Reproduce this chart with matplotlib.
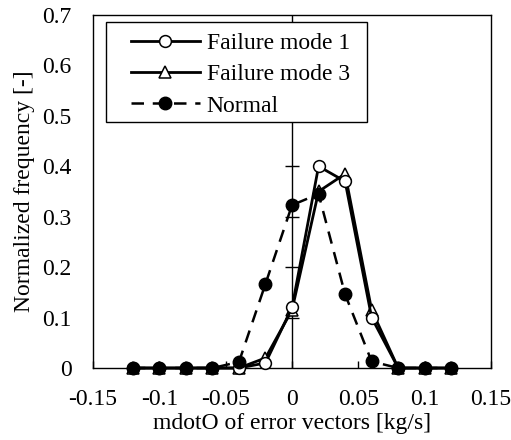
import matplotlib
matplotlib.use("Agg")
import matplotlib.pyplot as plt
from matplotlib.patches import Rectangle
import numpy as np

plt.rcParams['font.family'] = ['Liberation Serif', 'DejaVu Serif']

x = [-0.12, -0.10, -0.08, -0.06, -0.04, -0.02, 0.0, 0.02, 0.04, 0.06, 0.08, 0.10, 0.12]
fm1 = [0, 0, 0, 0, 0, 0.01, 0.12, 0.40, 0.37, 0.10, 0, 0, 0]
fm3 = [0, 0, 0, 0, 0, 0.02, 0.115, 0.35, 0.385, 0.115, 0, 0, 0]
normal = [0, 0, 0, 0, 0.012, 0.167, 0.323, 0.345, 0.146, 0.013, 0, 0, 0]

xticks = [-0.15, -0.1, -0.05, 0, 0.05, 0.1, 0.15]
xticklabels = ["-0.15", "-0.1", "-0.05", "0", "0.05", "0.1", "0.15"]
yticks = [0, 0.1, 0.2, 0.3, 0.4, 0.5, 0.6, 0.7]
yticklabels = ["0", "0.1", "0.2", "0.3", "0.4", "0.5", "0.6", "0.7"]

fig = plt.figure(figsize=(5.11, 4.40), dpi=100)
ax = fig.add_axes([0.182, 0.1636, 0.779, 0.8024])

fs = 17
l1, = ax.plot(x, fm1, linestyle='-', color='black', lw=2.0, marker='o',
              markersize=8.5, markerfacecolor='white', markeredgecolor='black', markeredgewidth=1.1,
              label='Failure mode 1', zorder=4, clip_on=False)
l3, = ax.plot(x, fm3, linestyle='-', color='black', lw=2.0, marker='^',
              markersize=8.5, markerfacecolor='white', markeredgecolor='black', markeredgewidth=1.1,
              label='Failure mode 3', zorder=3, clip_on=False)
ln, = ax.plot(x, normal, linestyle=(0, (5, 3.5)), color='black', lw=1.8, marker='o',
              markersize=9, markerfacecolor='black', markeredgecolor='black', label='Normal',
              zorder=5, clip_on=False)

# vertical axis line at x=0 with crossing ticks
ax.axvline(0, color='black', lw=1.0, zorder=2)
ax.plot([0] * (len(yticks) - 2), yticks[1:-1], linestyle='none', marker='_',
        markersize=10, color='black', markeredgewidth=1.0, zorder=2)

ax.set_xlim(-0.15, 0.15)
ax.set_ylim(0, 0.7)
ax.set_xticks(xticks)
ax.set_xticklabels(xticklabels, fontsize=fs)
ax.set_yticks(yticks)
ax.set_yticklabels(yticklabels, fontsize=fs)
ax.tick_params(axis='x', direction='in', length=5, width=1.0, pad=15)
ax.tick_params(axis='y', left=False, pad=12)
for s in ax.spines.values():
    s.set_linewidth(1.0)

ax.set_xlabel("mdotO of error vectors [kg/s]", fontsize=fs, labelpad=2)
ax.set_ylabel("Normalized frequency [-]", fontsize=fs, labelpad=5)

leg = ax.legend([l1, l3, ln], ['Failure mode 1', 'Failure mode 3', 'Normal'], loc='upper left',
                bbox_to_anchor=(0.078, 0.971), fontsize=fs, frameon=False,
                handlelength=2.9, handletextpad=0.3, borderpad=0.3,
                labelspacing=0.42, borderaxespad=0)
ax.add_patch(Rectangle((0.0327, 0.697), 0.656, 0.283, transform=ax.transAxes,
                       facecolor='white', edgecolor='black', lw=1.0, zorder=6))
leg.set_zorder(7)

fig.savefig("out.png", dpi=100)
